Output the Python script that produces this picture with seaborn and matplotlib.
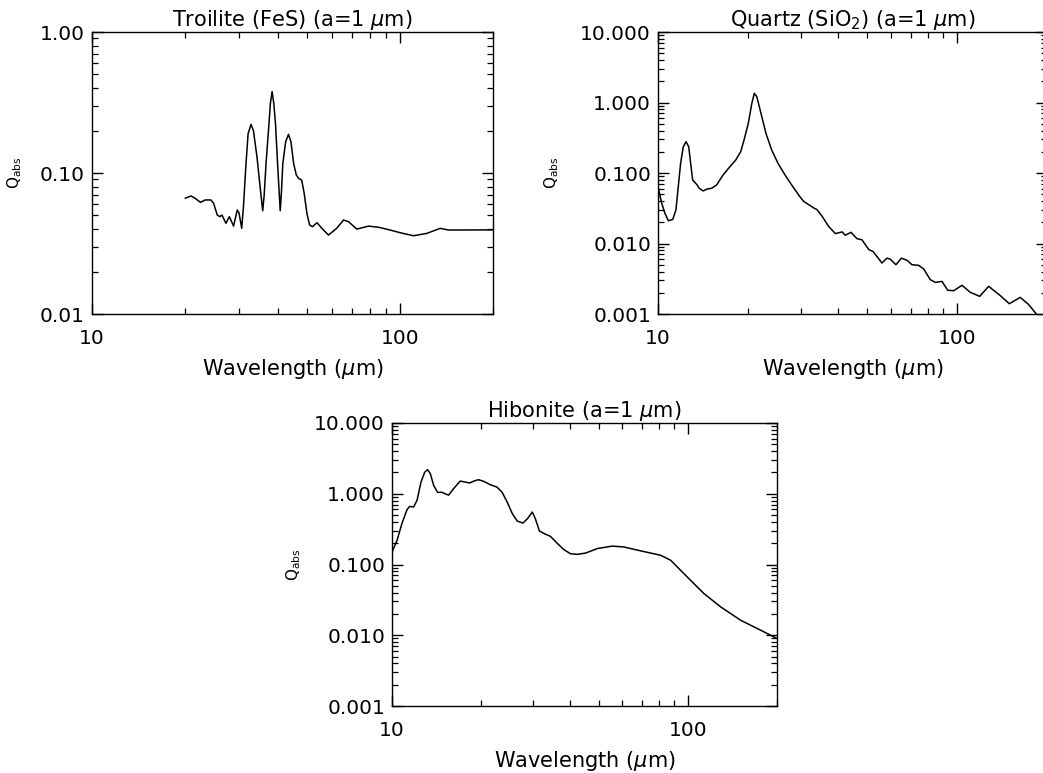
import numpy as np
import pandas as pd
import seaborn as sns
import matplotlib
matplotlib.use("Agg")
import matplotlib.pyplot as plt
from matplotlib.ticker import LogLocator, FixedLocator, FixedFormatter, FormatStrFormatter, NullFormatter

# Absorption efficiencies Q_abs for 1 micron grains
troilite_wl = [20.05, 20.96, 21.6, 22.5, 23.3, 24.3, 24.8, 25.5, 26.0, 26.4,
               27.2, 27.9, 28.8, 29.6, 30.0, 30.6, 31.0, 31.6, 32.1, 32.8,
               33.4, 34.3, 35.1, 35.8, 36.2, 36.7, 37.5, 37.9, 38.4, 38.9,
               39.4, 40.0, 40.8, 41.2, 41.6, 42.5, 43.4, 44.2, 45.1, 46.0,
               46.8, 47.9, 48.8, 49.8, 50.8, 51.9, 53.7, 55.7, 58.5, 62.2,
               65.5, 67.9, 72.3, 78.9, 85.2, 92.8, 100.0, 110.5, 122.0, 134.8,
               143.6, 200.0]
troilite_q = [0.0662, 0.0687, 0.0662, 0.0619, 0.0644, 0.0644, 0.061, 0.0503, 0.049, 0.0503,
              0.044, 0.049, 0.042, 0.0547, 0.052, 0.0405, 0.0577, 0.117, 0.19, 0.221,
              0.20, 0.13, 0.08, 0.054, 0.07, 0.117, 0.221, 0.31, 0.378, 0.31,
              0.221, 0.117, 0.054, 0.075, 0.117, 0.167, 0.188, 0.167, 0.117, 0.0968,
              0.0917, 0.089, 0.0718, 0.0518, 0.0428, 0.0416, 0.0444, 0.0405, 0.0363, 0.0405,
              0.0464, 0.0452, 0.040, 0.042, 0.0412, 0.0394, 0.0377, 0.0359, 0.0373, 0.0405,
              0.0394, 0.0395]

quartz_wl = [10.0, 10.29, 10.55, 10.83, 11.2, 11.48, 11.69, 11.9, 12.15, 12.41, 12.67, 12.86,
             13.06, 13.46, 13.74, 14.17, 14.6, 15.12, 15.7, 16.5, 17.4, 18.2, 18.9, 19.4,
             20.05, 20.6, 21.0, 21.4, 22.1, 22.96, 24.0, 25.2, 26.6, 28.0, 29.7, 30.7,
             32.3, 33.2, 34.0, 35.4, 37.2, 39.2, 41.3, 42.3, 44.2, 46.3, 48.1, 50.7,
             52.4, 56.1, 58.3, 59.8, 62.5, 65.2, 68.1, 70.7, 74.4, 77.4, 81.4, 84.6,
             89.1, 93.1, 97.5, 103.9, 110.8, 119.1, 127.6, 139.6, 149.6, 162.8, 173.7, 184.2]
quartz_q = [0.064, 0.0372, 0.0268, 0.021, 0.022, 0.0298, 0.064, 0.137, 0.236, 0.278, 0.236, 0.137,
            0.0796, 0.0692, 0.0607, 0.0556, 0.0593, 0.0607, 0.0676, 0.0937, 0.123, 0.153, 0.200, 0.294,
            0.507, 0.975, 1.35, 1.21, 0.703, 0.366, 0.212, 0.137, 0.0937, 0.0676, 0.0472, 0.0396,
            0.0344, 0.0319, 0.0303, 0.0243, 0.0175, 0.0138, 0.0146, 0.0131, 0.0144, 0.0117, 0.0113, 0.0082,
            0.0077, 0.00529, 0.0062, 0.0060, 0.0050, 0.0062, 0.00577, 0.0050, 0.0049, 0.00435, 0.00307, 0.00281,
            0.0029, 0.00217, 0.00214, 0.00255, 0.00203, 0.00178, 0.00247, 0.00182, 0.0014, 0.00172, 0.00136, 0.0010]

hibonite_wl = [10.0, 10.4, 10.8, 11.24, 11.47, 11.83, 12.15, 12.53, 12.9, 13.19, 13.48, 13.83,
               14.26, 14.75, 15.1, 15.54, 16.15, 17.0, 17.7, 18.3, 18.9, 19.6, 20.4, 21.5,
               22.65, 23.55, 24.5, 25.5, 26.5, 27.7, 28.7, 29.8, 30.5, 31.5, 32.7, 34.3,
               36.1, 38.1, 40.1, 42.2, 45.1, 49.4, 55.5, 60.7, 69.2, 80.9, 87.4, 94.4,
               102.0, 113.2, 129.0, 150.7, 176.0, 200.0]
hibonite_q = [0.150, 0.219, 0.378, 0.596, 0.663, 0.65, 0.807, 1.46, 2.02, 2.19, 1.92, 1.31,
              1.046, 1.05, 1.0, 0.958, 1.18, 1.51, 1.46, 1.42, 1.51, 1.58, 1.50, 1.34,
              1.24, 1.05, 0.765, 0.524, 0.411, 0.385, 0.445, 0.551, 0.445, 0.297, 0.273, 0.250,
              0.201, 0.162, 0.142, 0.139, 0.145, 0.168, 0.182, 0.177, 0.156, 0.135, 0.115, 0.083,
              0.060, 0.0389, 0.0252, 0.0163, 0.0118, 0.0090]

titles = ["Troilite (FeS) (a=1 $\\mu$m)",
          "Quartz (SiO$_2$) (a=1 $\\mu$m)",
          "Hibonite (a=1 $\\mu$m)"]
x_ticks = [10, 100]
x_ticklabels = ["10", "100"]

sns.set_theme(style="ticks")
plt.rcParams["font.family"] = ["DejaVu Sans"]
plt.rcParams["mathtext.fontset"] = "dejavusans"

W, H = 1043, 773
fig = plt.figure(figsize=(W / 100, H / 100), dpi=100)
fig.patch.set_facecolor("white")


def add_axes(left, right, top, bottom):
    return fig.add_axes([left / W, 1 - bottom / H, (right - left) / W, (bottom - top) / H])


panels = [
    (add_axes(92, 493, 32, 314), troilite_wl, troilite_q, (0.01, 1.0), "%.2f", -0.170),
    (add_axes(658, 1047, 32, 314), quartz_wl, quartz_q, (0.001, 10.0), "%.3f", -0.249),
    (add_axes(392, 777, 423, 706), hibonite_wl, hibonite_q, (0.001, 10.0), "%.3f", -0.231),
]

for (ax, wl, q, ylim, fmt, ylab_x), title in zip(panels, titles):
    df = pd.DataFrame({"wavelength": wl, "qabs": q})
    sns.lineplot(data=df, x="wavelength", y="qabs", ax=ax, color="black",
                 linewidth=1.1, sort=False, estimator=None)
    ax.set_xscale("log")
    ax.set_yscale("log")
    ax.set_xlim(10, 200)
    ax.set_ylim(*ylim)
    ax.set_facecolor("white")
    for s in ax.spines.values():
        s.set_linewidth(1.0)
        s.set_color("black")

    ax.xaxis.set_major_locator(FixedLocator(x_ticks))
    ax.xaxis.set_major_formatter(FixedFormatter(x_ticklabels))
    ax.xaxis.set_minor_locator(LogLocator(base=10, subs=np.arange(2, 10)))
    ax.xaxis.set_minor_formatter(NullFormatter())
    ax.yaxis.set_major_locator(LogLocator(base=10, numticks=10))
    ax.yaxis.set_major_formatter(FormatStrFormatter(fmt))
    ax.yaxis.set_minor_locator(LogLocator(base=10, subs=np.arange(2, 10), numticks=10))
    ax.yaxis.set_minor_formatter(NullFormatter())

    ax.tick_params(which="both", direction="in", top=True, right=True,
                   color="black", labelcolor="black")
    ax.tick_params(which="major", length=8, width=1.0, labelsize=14.5)
    ax.tick_params(which="minor", length=4, width=0.9)
    ax.tick_params(axis="x", which="major", pad=11)
    ax.tick_params(axis="y", which="major", pad=5)

    ax.set_title(title, fontsize=15, pad=4, color="black")
    ax.set_xlabel("Wavelength ($\\mu$m)", fontsize=15, labelpad=6, color="black")
    ax.set_ylabel("Q$_{\\rm abs}$", fontsize=11, color="black")
    ax.yaxis.set_label_coords(ylab_x, 0.5)

fig.savefig("out.png", dpi=100, facecolor="white")
